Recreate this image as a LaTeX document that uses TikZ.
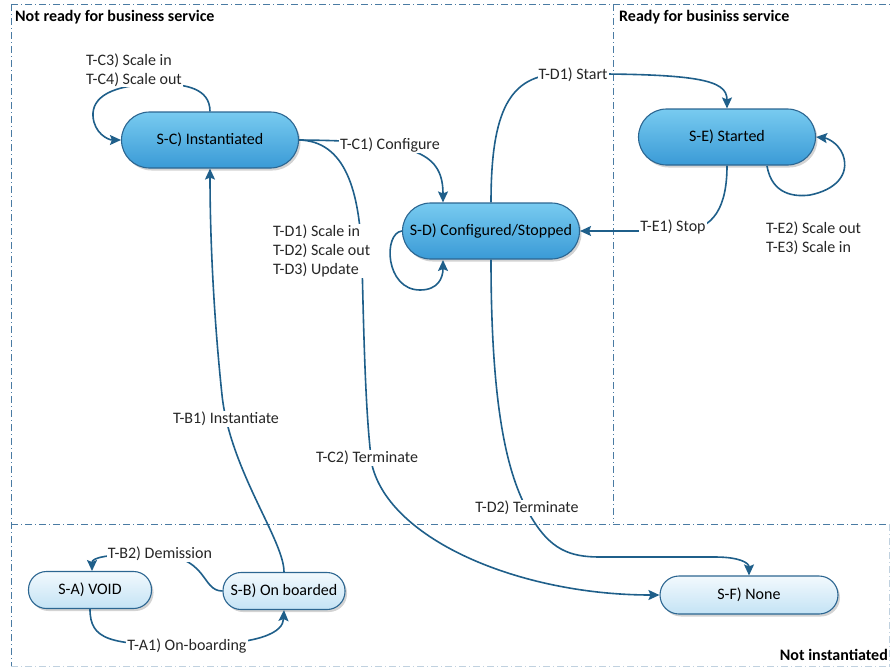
\documentclass[tikz,border=0pt]{standalone}
\usepackage{fontspec}
\setmainfont{Carlito}
\usetikzlibrary{arrows.meta,shadows}
\definecolor{edgec}{HTML}{1F5F8A}
\definecolor{bordc}{HTML}{2C6691}
\definecolor{divc}{HTML}{4A7BA3}
\definecolor{dtop}{HTML}{78CBF0}
\definecolor{dbot}{HTML}{3A9AD6}
\definecolor{ltop}{HTML}{F2F9FD}
\definecolor{lbot}{HTML}{C4E3F5}
\newcommand{\fsz}{\fontsize{16}{19}\selectfont}
\begin{document}
\begin{tikzpicture}[x=1pt,y=-1pt,
  stbase/.style={draw=bordc, line width=1.1pt, inner sep=0pt, font=\fsz,
    drop shadow={opacity=0.35, shadow xshift=2pt, shadow yshift=-2.5pt}},
  darkst/.style={stbase, top color=dtop, bottom color=dbot, minimum width=177pt,
    minimum height=56pt, rounded corners=28pt},
  lightst/.style={stbase, top color=ltop, bottom color=lbot, minimum height=37pt,
    rounded corners=18pt},
  conn/.style={draw=edgec, line width=1.6pt, -{Stealth[length=11pt,width=10pt,inset=2pt]}},
  lbl/.style={fill=white, inner sep=1pt, font=\fsz, align=left, text=black!85},
  title/.style={font=\fsz\bfseries, inner sep=0pt, anchor=west},
  divider/.style={draw=divc, line width=0.9pt, dash pattern=on 7pt off 3pt on 1pt off 3pt},
  faint/.style={draw=divc!35, line width=0.9pt, dash pattern=on 7pt off 3pt on 1pt off 3pt}
]
\useasboundingbox (0,0) rectangle (891,667);

% region dividers
\draw[divider] (11,4) -- (891,4);
\draw[divider] (11,4) -- (11,666);
\draw[divider] (613,4) -- (613,523);
\draw[divider] (11,524) -- (891,524);
\draw[faint] (11,666) -- (891,666);
\draw[faint] (889,524) -- (889,666);

\node[title] (tnr) at (15,17) {Not ready for business service};
\node[title] (tr) at (619,17) {Ready for businiss service};
\node[title, anchor=east] (tni) at (888,655) {Not instantiated};

% states
\node[darkst] (SC) at (210,140) {S-C) Instantiated};
\node[darkst] (SD) at (491,231) {S-D) Configured/Stopped};
\node[darkst] (SE) at (727,137) {S-E) Started};
\node[lightst, minimum width=123pt] (SA) at (90,590) {S-A) VOID};
\node[lightst, minimum width=122pt] (SB) at (284,591) {S-B) On boarded};
\node[lightst, minimum width=178pt, minimum height=38pt, rounded corners=19pt] (SF) at (749,595) {S-F) None};

% connectors
\path[conn] (SC.north) .. controls (210,88) and (185,84) .. (160,84)
  .. controls (110,84) and (92,98) .. (93,116)
  .. controls (94,133) and (108,140) .. (SC.west);
\path[conn] (SC.east) .. controls (410,141) and (443,150) .. (SD.north -| 443,0);
\path[conn] (SC.east) .. controls (345,141) and (360,190) .. (362,260)
  .. controls (364,350) and (366,420) .. (372,465)
  .. controls (390,540) and (520,595) .. (SF.west);
\path[conn] (SB.north) .. controls (284,540) and (230,470) .. (222,395)
  .. controls (212,300) and (210,220) .. (SC.south);
\path[conn] (SB.west) .. controls (200,591) and (210,554) .. (150,554)
  .. controls (105,554) and (92,558) .. (92,571);
\path[conn] (SA.south) .. controls (90,640) and (110,645) .. (185,645)
  .. controls (262,645) and (283,632) .. (SB.south);
\path[conn] (SD.north) .. controls (491,110) and (510,75) .. (560,74)
  .. controls (700,73) and (727,80) .. (SE.north);
\path[conn] (SE.south) .. controls (727,205) and (715,231) .. (680,231) -- (SD.east);
\path[conn] (767,166) .. controls (772,195) and (795,197) .. (810,195)
  .. controls (835,190) and (850,175) .. (843,155)
  .. controls (838,142) and (826,138) .. (SE.east);
\path[conn] (SD.west) .. controls (383,233) and (385,290) .. (420,290)
  .. controls (438,290) and (443,278) .. (443,260);
\path[conn] (SD.south) .. controls (491,420) and (510,480) .. (530,515)
  .. controls (550,550) and (570,557) .. (600,557) -- (715,557)
  .. controls (740,557) and (749,563) .. (SF.north);

% labels
\node[lbl, anchor=west] (lc34) at (85,70) {T-C3) Scale in\\T-C4) Scale out};
\node[lbl] (lc1) at (390,145) {T-C1) Configure};
\node[lbl, anchor=west] (ld) at (272,251) {T-D1) Scale in\\T-D2) Scale out\\T-D3) Update};
\node[lbl] (lc2) at (367,458) {T-C2) Terminate};
\node[lbl] (lb1) at (226,419) {T-B1) Instantiate};
\node[lbl] (lb2) at (160,554) {T-B2) Demission};
\node[lbl] (la1) at (187,646) {T-A1) On-boarding};
\node[lbl] (ld1) at (573,75) {T-D1) Start};
\node[lbl] (le1) at (673,227) {T-E1) Stop};
\node[lbl, anchor=west] (le23) at (765,238) {T-E2) Scale out\\T-E3) Scale in};
\node[lbl] (ld2) at (527,508) {T-D2) Terminate};
\end{tikzpicture}
\end{document}
